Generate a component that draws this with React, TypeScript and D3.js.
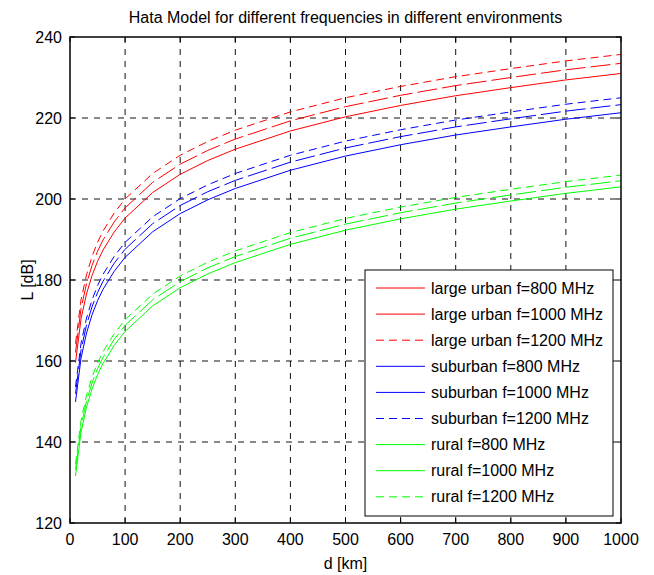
import React from "react";
import * as d3 from "d3";

const distances = [10, 20, 30, 40, 50, 60, 80, 100, 150, 200, 250, 300, 400, 500, 600, 700, 800, 900, 1000];

const largeUrban800 = [159.6, 170.4, 176.6, 181.1, 184.6, 187.4, 191.8, 195.3, 201.6, 206.1, 209.5, 212.3, 216.8, 220.3, 223.1, 225.5, 227.5, 229.4, 231.0];
const largeUrban1000 = [162.1, 172.9, 179.1, 183.6, 187.1, 189.9, 194.3, 197.8, 204.1, 208.6, 212.0, 214.8, 219.3, 222.8, 225.6, 228.0, 230.0, 231.9, 233.5];
const largeUrban1200 = [164.3, 175.1, 181.3, 185.8, 189.3, 192.1, 196.5, 200.0, 206.3, 210.8, 214.2, 217.0, 221.5, 225.0, 227.8, 230.2, 232.2, 234.1, 235.7];
const suburban800 = [149.9, 160.7, 166.9, 171.4, 174.9, 177.7, 182.1, 185.6, 191.9, 196.4, 199.8, 202.6, 207.1, 210.6, 213.4, 215.8, 217.8, 219.7, 221.3];
const suburban1000 = [151.9, 162.7, 168.9, 173.4, 176.9, 179.7, 184.1, 187.6, 193.9, 198.4, 201.8, 204.6, 209.1, 212.6, 215.4, 217.8, 219.8, 221.7, 223.3];
const suburban1200 = [153.6, 164.4, 170.6, 175.1, 178.6, 181.4, 185.8, 189.3, 195.6, 200.1, 203.5, 206.3, 210.8, 214.3, 217.1, 219.5, 221.5, 223.4, 225.0];
const rural800 = [131.6, 142.4, 148.6, 153.1, 156.6, 159.4, 163.8, 167.3, 173.6, 178.1, 181.5, 184.3, 188.8, 192.3, 195.1, 197.5, 199.5, 201.4, 203.0];
const rural1000 = [133.1, 143.9, 150.1, 154.6, 158.1, 160.9, 165.3, 168.8, 175.1, 179.6, 183.0, 185.8, 190.3, 193.8, 196.6, 199.0, 201.0, 202.9, 204.5];
const rural1200 = [134.5, 145.3, 151.5, 156.0, 159.5, 162.3, 166.7, 170.2, 176.5, 181.0, 184.4, 187.2, 191.7, 195.2, 198.0, 200.4, 202.4, 204.3, 205.9];

const seriesNames = [
  "large urban f=800 MHz",
  "large urban f=1000 MHz",
  "large urban f=1200 MHz",
  "suburban f=800 MHz",
  "suburban f=1000 MHz",
  "suburban f=1200 MHz",
  "rural f=800 MHz",
  "rural f=1000 MHz",
  "rural f=1200 MHz",
];
const seriesValues = [
  largeUrban800, largeUrban1000, largeUrban1200,
  suburban800, suburban1000, suburban1200,
  rural800, rural1000, rural1200,
];
const seriesColors = ["#ff0000", "#ff0000", "#ff0000", "#0000ff", "#0000ff", "#0000ff", "#00ff00", "#00ff00", "#00ff00"];
const seriesDash = ["none", "20,5", "8,5", "none", "20,5", "8,5", "none", "20,5", "8,5"];

const xTicks = [0, 100, 200, 300, 400, 500, 600, 700, 800, 900, 1000];
const yTicks = [120, 140, 160, 180, 200, 220, 240];

const W = 654;
const H = 575;
const left = 70;
const right = 621;
const top = 37;
const bottom = 523;
const FONT = "'Liberation Sans', Arial, sans-serif";

export default function App() {
  const x = d3.scaleLinear().domain([0, 1000]).range([left, right]);
  const y = d3.scaleLinear().domain([120, 240]).range([bottom, top]);
  const line = d3
    .line<[number, number]>()
    .x((d) => x(d[0]))
    .y((d) => y(d[1]));

  const legX = 365;
  const legY = 270;
  const legW = 248;
  const legH = 246;
  const rowH = 26.1;
  const firstRow = legY + 18;

  return (
    <svg width={W} height={H} style={{ position: "absolute", left: 0, top: 0, background: "#fff" }}>
      <rect x={0} y={0} width={W} height={H} fill="#fff" />
      {xTicks.slice(1, -1).map((t) => (
        <line key={"gx" + t} x1={x(t)} x2={x(t)} y1={top} y2={bottom} stroke="#111" strokeWidth={1} strokeDasharray="6,6" />
      ))}
      {yTicks.slice(1, -1).map((t) => (
        <line key={"gy" + t} x1={left} x2={right} y1={y(t)} y2={y(t)} stroke="#111" strokeWidth={1} strokeDasharray="6,6" />
      ))}
      {seriesValues.map((vals, i) => (
        <path
          key={"s" + i}
          d={line(distances.map((d, j) => [d, vals[j]] as [number, number])) || ""}
          fill="none"
          stroke={seriesColors[i]}
          strokeWidth={1}
          strokeDasharray={seriesDash[i]}
        />
      ))}
      {xTicks.map((t) => (
        <g key={"tx" + t}>
          <line x1={x(t)} x2={x(t)} y1={bottom} y2={bottom - 5} stroke="#000" />
          <line x1={x(t)} x2={x(t)} y1={top} y2={top + 5} stroke="#000" />
          <text x={x(t)} y={bottom + 22} textAnchor="middle" fontFamily={FONT} fontSize={16} fill="#000">
            {t}
          </text>
        </g>
      ))}
      {yTicks.map((t) => (
        <g key={"ty" + t}>
          <line x1={left} x2={left + 5} y1={y(t)} y2={y(t)} stroke="#000" />
          <line x1={right} x2={right - 5} y1={y(t)} y2={y(t)} stroke="#000" />
          <text x={left - 8} y={y(t) + 5.5} textAnchor="end" fontFamily={FONT} fontSize={16} fill="#000">
            {t}
          </text>
        </g>
      ))}
      <rect x={left} y={top} width={right - left} height={bottom - top} fill="none" stroke="#000" strokeWidth={1.5} />
      <text x={(left + right) / 2} y={23} textAnchor="middle" fontFamily={FONT} fontSize={16} fill="#000">
        Hata Model for different frequencies in different environments
      </text>
      <text x={(left + right) / 2} y={569} textAnchor="middle" fontFamily={FONT} fontSize={16} fill="#000">
        d [km]
      </text>
      <text
        transform={`translate(33,${(top + bottom) / 2}) rotate(-90)`}
        textAnchor="middle"
        fontFamily={FONT}
        fontSize={16}
        fill="#000"
      >
        L [dB]
      </text>
      <rect x={legX} y={legY} width={legW} height={legH} fill="#fff" stroke="#000" strokeWidth={1} />
      {seriesNames.map((name, i) => {
        const ry = firstRow + i * rowH;
        return (
          <g key={"lg" + i}>
            <line x1={376} x2={425} y1={ry} y2={ry} stroke={seriesColors[i]} strokeWidth={1} strokeDasharray={seriesDash[i] === "20,5" ? "none" : seriesDash[i]} />
            <text x={431} y={ry + 5.5} fontFamily={FONT} fontSize={16} fill="#000">
              {name}
            </text>
          </g>
        );
      })}
    </svg>
  );
}
